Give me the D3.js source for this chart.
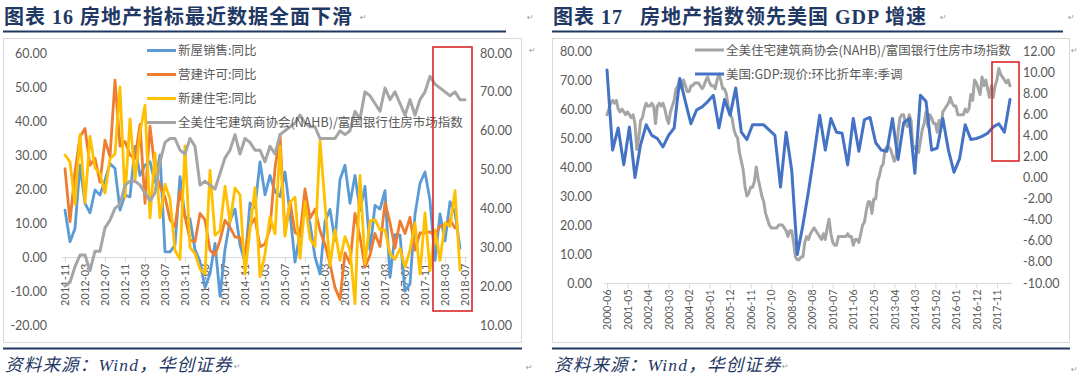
<!DOCTYPE html>
<html><head><meta charset="utf-8">
<script src="https://cdn.jsdelivr.net/npm/d3@7"></script>
<style>body{margin:0;background:#fff}svg{display:block}</style>
</head><body><svg id="c" width="1080" height="382"></svg>
<script>
// ---------- Chart 16 data (monthly, 2011-11 .. 2018-07) ----------
const leftTickLabels = ["2011-11","2012-03","2012-07","2012-11","2013-03","2013-07","2013-11","2014-03","2014-07","2014-11","2015-03","2015-07","2015-11","2016-03","2016-07","2016-11","2017-03","2017-07","2017-11","2018-03","2018-07"];
const leftAxisTicks = [60,50,40,30,20,10,0,-10,-20];
const leftAxis2Ticks = [80,70,60,50,40,30,20,10];
const newHomeSalesYoY = [13.8,4.5,8.4,27,15.8,13,19.7,18.2,22.6,27.5,26,13.8,18.2,17.7,32.5,24,27,28,22,30,1.5,1.5,3.5,23.6,11.8,11.2,2.2,-1.3,-9,-4.9,4,-11.5,2.3,10.7,14.1,3.6,-1.6,15.9,14.5,28,18.3,24,19.2,17.8,25,12.9,-1.5,7.1,14,9.9,0,-5,10.4,14,4.8,22.8,27,15.8,24,13.7,20.8,2,15.2,14.1,19.5,-6,6.6,6.4,-10,-7.9,12.5,21.7,25,16.6,-1,12.7,4.7,16.3,13,2.6];
const permitsYoY = [26,10.4,25,35.4,37.8,27,29,22,34.4,29.5,52,32.6,34,30,29,39,15.8,38.5,25.6,20.7,17.6,11,8.9,19.4,11.9,5,4.5,12.8,10.9,2,0.6,4.9,10.8,8.7,5.9,5.6,1,9.1,11.4,3,3.8,8.4,26.1,36,6.9,16.3,7.2,6.3,20,11.4,14.1,7.8,3.7,-2.1,-9,-12.5,1.2,-1.9,12.8,5.9,-3,0.5,6.9,3.1,16,10.1,2.6,10.6,6.9,11.7,2,7.1,7.1,7.4,6.3,9.1,9.3,11,8.5];
const startsYoY = [30,28,15.5,36,16,35.5,26.2,24.5,18.8,28.9,30.3,50,17.5,40.6,22.8,36.6,44.6,11.5,30.6,11.5,21.4,17.1,1.9,-0.7,32.7,2.8,1,-3.5,-5,25.5,6.4,7.7,20.8,10.2,20.3,18.3,-5,7.9,20.4,-5.8,0.9,11.9,6.8,32.6,6.1,16.1,17.6,-0.4,16.2,5.4,3.1,34.2,15.6,-2.5,8,-1,6,2,-13.7,24,-2,10.6,11,8,8,1,-0.7,2.5,-3,2,10,-5,13,-4,8,-1,10,9,19.5,-3.8];
const nahbLeft = [20,21,25,28,28,24,29,29,35,37,40,41,46,47,47,46,44,42,44,52,57,58,58,55,54,58,56,46,47,46,45,49,53,55,59,54,58,57,55,55,52,56,54,59,60,61,62,64,62,61,61,58,58,58,58,60,59,60,65,63,70,69,67,65,71,68,70,67,64,68,64,68,70,74,72,71,70,69,70,68,68];
const leftSeriesNames = ["新屋销售:同比","营建许可:同比","新建住宅:同比","全美住宅建筑商协会(NAHB)/富国银行住房市场指数"];

// ---------- Chart 17 data (monthly 2000-06 .. 2018-06; GDP quarterly) ----------
const rightTickLabels = ["2000-06","2001-05","2002-04","2003-03","2004-02","2005-01","2005-12","2006-11","2007-10","2008-09","2009-08","2010-07","2011-06","2012-05","2013-04","2014-03","2015-02","2016-01","2016-12","2017-11"];
const rightAxisTicks = [80,70,60,50,40,30,20,10,0];
const rightAxis2Ticks = [12,10,8,6,4,2,0,-2,-4,-6,-8,-10];
const nahbRight = [
 58,60,62,63,62,63,60,
 59,60,59,58,59,58,57,58,55,46,50,56,
 57,60,62,61,61,62,61,55,61,62,61,62,
 60,57,55,59,61,63,67,68,70,67,70,68,
 66,66,68,68,69,69,69,68,67,68,70,71,
 69,68,68,67,70,72,70,67,67,65,61,58,
 57,53,51,50,45,42,39,33,30,31,33,33,
 35,40,36,33,30,28,24,22,20,19,19,19,
 19,20,20,20,19,18,16,18,18,14,9,8,
 8,9,9,14,16,15,17,18,19,18,17,16,
 15,17,15,19,22,17,14,13,13,16,16,16,
 16,16,17,16,16,13,15,15,14,17,20,21,
 25,28,28,24,29,29,35,37,40,41,46,47,
 47,46,44,42,44,52,57,58,58,55,54,58,
 56,46,47,46,45,49,53,55,59,54,58,57,
 55,55,52,56,54,59,60,61,62,64,62,61,
 61,58,58,58,58,60,59,60,65,63,70,69,
 67,65,71,68,70,67,64,68,64,68,70,74,
 72,71,70,69,70,68];
const gdpQoQ = [10.2,2.6,4.7,
 1.2,4.8,0.0,3.1,
 5.0,4.0,3.7,2.9,
 4.0,4.7,9.4,7.2,
 5.1,6.4,6.7,7.2,
 7.8,4.7,7.4,5.9,
 8.5,4.3,3.6,5.0,
 5.0,5.0,4.5,4.0,
 -0.9,4.3,0.7,-7.3,
 -4.5,-1.3,2.2,5.9,
 2.6,5.6,4.3,4.2,
 1.2,5.6,2.5,5.5,
 5.7,3.3,2.6,2.5,
 5.6,1.7,5.2,5.6,
 0.4,7.8,7.2,2.6,
 2.8,5.6,2.6,0.5,
 1.8,5.0,3.6,3.7,
 3.9,4.2,4.8,5.1,
 4.3,7.4];
const rightSeriesNames = ["全美住宅建筑商协会(NAHB)/富国银行住房市场指数","美国:GDP:现价:环比折年率:季调"];

const titles = ["图表 16 房地产指标最近数据全面下滑","图表 17\u2002 房地产指数领先美国 GDP 增速"];
const sourceText = "资料来源：Wind，华创证券";

// ---------- drawing ----------
const svg = d3.select("#c");
svg.append("rect").attr("width",1080).attr("height",382).attr("fill","#fff");
const fmtM = d3.timeFormat("%Y-%m");
const leftMonths = d3.timeMonths(new Date(2011,10,1), new Date(2018,7,1)).map(fmtM);
const rightMonths = d3.timeMonths(new Date(2000,5,1), new Date(2018,6,1)).map(fmtM);
const gdpMonths = d3.timeMonths(new Date(2000,5,1), new Date(2018,6,1), 3).map(fmtM);

const NAVY = "#1f3864", AX = "#595959", GRID = "#d9d9d9";
const numF = d => d.toFixed(2);
const fontNum = "Lato, 'Noto Sans', sans-serif";
const fontCJK = "'Noto Sans CJK SC', 'Noto Sans', sans-serif";

function mark(x,y){
  svg.append("text").attr("x",x).attr("y",y).text("\u21B5").attr("font-size",8)
    .attr("fill","#999").attr("font-family","DejaVu Sans");
}
function frame(x0, titleLineEnd, boxW, bottomEnd, title, ret1x, ret2x){
  svg.append("text").attr("x",x0+1).attr("y",23.5).text(title)
    .attr("font-family","'Liberation Serif', 'Noto Sans CJK SC', serif").attr("font-weight","bold")
    .attr("font-size",20).attr("letter-spacing",1).attr("fill",NAVY);
  svg.append("line").attr("x1",x0).attr("x2",titleLineEnd).attr("y1",31.5).attr("y2",31.5)
    .attr("stroke",NAVY).attr("stroke-width",2.2);
  svg.append("rect").attr("x",x0+0.5).attr("y",38.5).attr("width",boxW).attr("height",304)
    .attr("fill","none").attr("stroke",GRID).attr("stroke-width",1);
  svg.append("line").attr("x1",x0).attr("x2",bottomEnd).attr("y1",348.5).attr("y2",348.5)
    .attr("stroke",NAVY).attr("stroke-width",2);
  svg.append("text").attr("x",x0+2).attr("y",371).text(sourceText)
    .attr("font-family","'Liberation Serif', 'Noto Sans CJK SC', serif").attr("font-style","italic")
    .attr("font-size",17.5).attr("letter-spacing",1.2).attr("fill",NAVY);
  mark(ret1x,20); mark(ret2x,20);
}
frame(3, 506, 518, 522, titles[0], 360, 527);
frame(552, 1063, 517, 1070, titles[1], 940, 1068);
mark(529,53); mark(1071,53); mark(526,370); mark(1071,372); mark(234,369); mark(782,369);

function yAxis(scale, ticks, x, side){
  const ax = (side==="left"? d3.axisLeft(scale) : d3.axisRight(scale))
    .tickValues(ticks).tickFormat(numF).tickSize(0).tickPadding(0);
  const g = svg.append("g").attr("transform",`translate(${x},0)`).call(ax);
  g.select(".domain").remove();
  g.selectAll("text").attr("font-family",fontNum).attr("font-size",12.5).attr("fill",AX);
}
function xAxis(scale, labels, y, x1, x2, fs){
  svg.append("line").attr("x1",x1).attr("x2",x2).attr("y1",y+0.5).attr("y2",y+0.5).attr("stroke",GRID);
  const ax = d3.axisBottom(scale).tickValues(labels).tickSize(5);
  const g = svg.append("g").attr("transform",`translate(0,${y+0.5})`).call(ax);
  g.select(".domain").remove();
  g.selectAll(".tick line").attr("stroke",GRID);
  g.selectAll("text").attr("transform","rotate(-90)").attr("x",-6).attr("y",0).attr("dy","0.35em")
    .attr("text-anchor","end").attr("font-family",fontNum).attr("font-size",fs).attr("fill",AX);
}
function legend(x, y0, dy, items){
  items.forEach((it,i)=>{
    const y = y0 + i*dy;
    svg.append("line").attr("x1",x).attr("x2",x+29).attr("y1",y).attr("y2",y).attr("stroke",it.c).attr("stroke-width",3);
    svg.append("text").attr("x",x+31).attr("y",y).attr("dy","0.36em").text(it.n)
      .attr("font-family",fontCJK).attr("font-size",12.5).attr("fill",AX);
  });
}
function plotLine(xs, xkeys, ys, data, color, w){
  const line = d3.line().defined(d=>d!=null).x((d,i)=>xs(xkeys[i])).y(d=>ys(d));
  svg.append("path").datum(data).attr("d",line).attr("fill","none").attr("stroke",color)
    .attr("stroke-width",w).attr("stroke-linejoin","round").attr("stroke-linecap","round");
}

// ----- Chart 16 -----
const xL = d3.scalePoint().domain(leftMonths).range([65,465]);
const yL = d3.scaleLinear().domain([-20,60]).range([325,53]);
const yL2 = d3.scaleLinear().domain([10,80]).range([325,53]);
yAxis(yL, leftAxisTicks, 47, "left");
yAxis(yL2, leftAxis2Ticks, 480, "right");
xAxis(xL, leftTickLabels, yL(0), 62, 468, 11);
const colL = ["#5b9bd5","#ed7d31","#ffc000","#a5a5a5"];
plotLine(xL, leftMonths, yL, newHomeSalesYoY, colL[0], 2.8);
plotLine(xL, leftMonths, yL, permitsYoY, colL[1], 2.8);
plotLine(xL, leftMonths, yL, startsYoY, colL[2], 2.8);
plotLine(xL, leftMonths, yL2, nahbLeft, colL[3], 3);
legend(147, 50.5, 24, leftSeriesNames.map((n,i)=>({n, c:colL[i]})));
svg.append("rect").attr("x",433).attr("y",47).attr("width",39).attr("height",264)
  .attr("fill","none").attr("stroke","#d9262a").attr("stroke-width",1.6);

// ----- Chart 17 -----
const xR = d3.scalePoint().domain(rightMonths).range([607,1010]);
const yR = d3.scaleLinear().domain([0,80]).range([283,51]);
const yR2 = d3.scaleLinear().domain([-10,12]).range([283,51]);
yAxis(yR, rightAxisTicks, 592, "left");
yAxis(yR2, rightAxis2Ticks, 1023, "right");
xAxis(xR, rightTickLabels, yR(0), 604, 1012, 10.5);
const colR = ["#a5a5a5","#4472c4"];
plotLine(xR, rightMonths, yR, nahbRight, colR[0], 3);
plotLine(xR, gdpMonths, yR2, gdpQoQ, colR[1], 3);
legend(695, 50, 24, rightSeriesNames.map((n,i)=>({n, c:colR[i]})));
svg.append("rect").attr("x",992).attr("y",62).attr("width",27).attr("height",99)
  .attr("fill","none").attr("stroke","#d9262a").attr("stroke-width",1.6);
</script></body></html>
